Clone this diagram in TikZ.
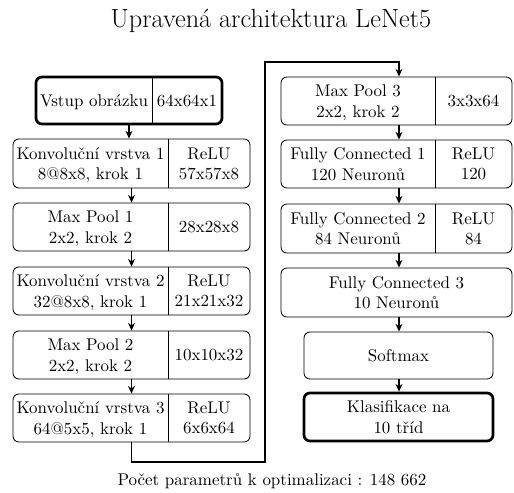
\documentclass[tikz,border=0pt]{standalone}
\usetikzlibrary{arrows.meta}
\begin{document}
\begin{tikzpicture}[x=0.59pt, y=-0.59pt,
  layer/.style={draw, rounded corners=3.5pt, line width=0.5pt, inner sep=0pt},
  endbox/.style={draw, rounded corners=3.5pt, line width=1.6pt, inner sep=0pt},
  txt/.style={align=center, inner sep=0pt, font=\normalsize, text depth=0pt},
  flow/.style={line width=1pt, -{Stealth[length=4.5pt, width=4pt]}},
  divider/.style={line width=0.5pt}]
\useasboundingbox (0,0) rectangle (514,493);

% title
\node[font=\fontsize{15.5}{19}\selectfont, anchor=base, inner sep=0pt] (title) at (271,28) {Upravená architektura LeNet5};

% ---------- left column ----------
\node[endbox, minimum width=186*0.59pt, minimum height=47*0.59pt] (in) at (129,100.5) {};
\draw[divider] (152,77) coordinate (inA) -- (152,124) coordinate (inB);
\node[txt] (inL) at (94,100.5) {Vstup obrázku};
\node[txt] (inR) at (187,100.5) {64x64x1};

\node[layer, minimum width=237*0.59pt, minimum height=49*0.59pt] (c1) at (131.5,163.5) {};
\draw[divider] (168,139) coordinate (c1A) -- (168,188) coordinate (c1B);
\node[txt] (c1L) at (90.5,163.5) {Konvoluční vrstva 1\\8@8x8, krok 1};
\node[txt] (c1R) at (209,163.5) {ReLU\\57x57x8};

\node[layer, minimum width=237*0.59pt, minimum height=48*0.59pt] (p1) at (131.5,227) {};
\draw[divider] (168,203) coordinate (p1A) -- (168,251) coordinate (p1B);
\node[txt] (p1L) at (90.5,227) {Max Pool 1\\2x2, krok 2};
\node[txt] (p1R) at (209,227) {28x28x8};

\node[layer, minimum width=237*0.59pt, minimum height=48*0.59pt] (c2) at (131.5,291) {};
\draw[divider] (168,267) coordinate (c2A) -- (168,315) coordinate (c2B);
\node[txt] (c2L) at (90.5,291) {Konvoluční vrstva 2\\32@8x8, krok 1};
\node[txt] (c2R) at (209,291) {ReLU\\21x21x32};

\node[layer, minimum width=237*0.59pt, minimum height=48*0.59pt] (p2) at (131.5,355) {};
\draw[divider] (168,331) coordinate (p2A) -- (168,379) coordinate (p2B);
\node[txt] (p2L) at (90.5,355) {Max Pool 2\\2x2, krok 2};
\node[txt] (p2R) at (209,355) {10x10x32};

\node[layer, minimum width=237*0.59pt, minimum height=48*0.59pt] (c3) at (131.5,418) {};
\draw[divider] (168,394) coordinate (c3A) -- (168,442) coordinate (c3B);
\node[txt] (c3L) at (90.5,418) {Konvoluční vrstva 3\\64@5x5, krok 1};
\node[txt] (c3R) at (209,418) {ReLU\\6x6x64};

% ---------- right column ----------
\node[layer, minimum width=231*0.59pt, minimum height=48*0.59pt] (p3) at (396.5,101) {};
\draw[divider] (435,77) coordinate (p3A) -- (435,125) coordinate (p3B);
\node[txt] (p3L) at (358,101) {Max Pool 3\\2x2, krok 2};
\node[txt] (p3R) at (473.5,101) {3x3x64};

\node[layer, minimum width=231*0.59pt, minimum height=48*0.59pt] (f1) at (396.5,164) {};
\draw[divider] (435,140) coordinate (f1A) -- (435,188) coordinate (f1B);
\node[txt] (f1L) at (358,164) {Fully Connected 1\\120 Neuronů};
\node[txt] (f1R) at (473.5,164) {ReLU\\120};

\node[layer, minimum width=231*0.59pt, minimum height=49*0.59pt] (f2) at (396.5,228.5) {};
\draw[divider] (435,204) coordinate (f2A) -- (435,253) coordinate (f2B);
\node[txt] (f2L) at (358,228.5) {Fully Connected 2\\84 Neuronů};
\node[txt] (f2R) at (473.5,228.5) {ReLU\\84};

\node[layer, minimum width=231*0.59pt, minimum height=49*0.59pt] (f3) at (396.5,292.5) {};
\node[txt] (f3L) at (396.5,292.5) {Fully Connected 3\\10 Neuronů};

\node[layer, minimum width=189*0.59pt, minimum height=47*0.59pt] (sm) at (398.5,355.5) {};
\node[txt] (smL) at (398.5,355.5) {Softmax};

\node[endbox, minimum width=189*0.59pt, minimum height=48*0.59pt] (out) at (398.5,417) {};
\node[txt] (outL) at (398.5,417) {Klasifikace na\\10 tříd};

% ---------- connectors ----------
\draw[flow] (in.south) -- (in.south |- c1.north);
\draw[flow] (c1.south) -- (c1.south |- p1.north);
\draw[flow] (p1.south) -- (p1.south |- c2.north);
\draw[flow] (c2.south) -- (c2.south |- p2.north);
\draw[flow] (p2.south) -- (p2.south |- c3.north);

\coordinate (t1) at (131.5,462);
\coordinate (t2) at (265,462);
\coordinate (t3) at (265,62);
\coordinate (t4) at (399,62);
\draw[flow] (c3.south) -- (t1) -- (t2) -- (t3) -- (t4) -- (t4 |- p3.north);

\draw[flow] (p3.south -| t4) -- (t4 |- f1.north);
\draw[flow] (f1.south -| t4) -- (t4 |- f2.north);
\draw[flow] (f2.south -| t4) -- (t4 |- f3.north);
\draw[flow] (f3.south -| t4) -- (t4 |- sm.north);
\draw[flow] (sm.south -| t4) -- (t4 |- out.north);

% parameter count
\node[font=\normalsize, anchor=base, inner sep=0pt] (note) at (272,486) {Počet parametrů k optimalizaci : 148 662};
\end{tikzpicture}
\end{document}
